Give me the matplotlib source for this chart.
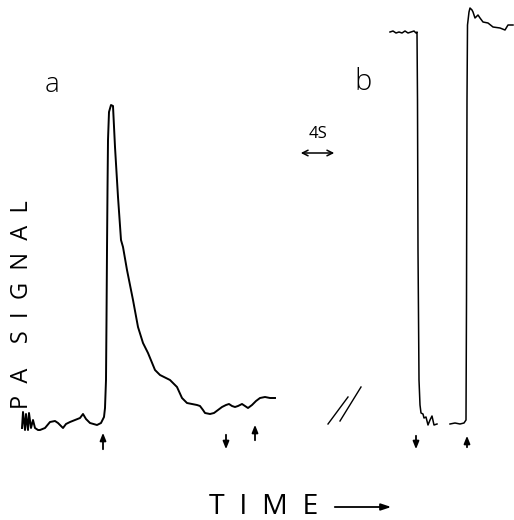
import matplotlib.pyplot as plt

# trace a: laser switched on (arrow up), off / on again
time_a = [22, 23, 25, 26, 28, 29, 31, 33, 35, 38, 40, 45, 50, 55, 58, 63, 66, 70, 75, 80,
          83, 86, 90, 97, 101, 104, 105, 106, 106.5, 107, 107.5, 108, 109, 111, 113, 115,
          118, 121, 123, 127, 133, 138, 143, 148, 155, 160, 170, 177, 182, 187, 192, 197,
          200, 203, 205, 210, 214, 218, 222, 226, 229, 232, 235, 238, 242, 245, 248, 252,
          256, 260, 265, 270, 275]
signal_a = [2, 18, 0, 16, 0, 17, 2, 10, 2, 0, 0, 2, 8, 9, 7, 2, 6, 8, 10, 12,
            16, 11, 7, 5, 7, 13, 22, 50, 110, 180, 240, 290, 318, 325, 324, 283,
            233, 190, 183, 160, 130, 103, 87, 77, 60, 55, 50, 43, 32, 27, 26, 25,
            24, 20, 17, 16, 17, 20, 23, 25, 26, 24, 23, 24, 26, 24, 22, 25,
            29, 32, 33, 32, 32]

# trace b: switched off then on
time_b1 = [390, 393, 396, 399, 402, 405, 408, 411, 414, 416, 417, 417.5, 418, 419, 420,
           421, 423, 424, 426, 428, 430, 432, 434, 437]
signal_b1 = [398, 399, 397, 398, 397, 399, 397, 398, 399, 397, 398, 330, 180, 50, 25,
             17, 16, 12, 13, 5, 10, 14, 5, 6]
time_b2 = [450, 455, 460, 464, 466, 466.5, 467, 467.5, 469, 470, 472, 473, 475, 478, 480,
           483, 488, 493, 500, 505, 508, 513]
signal_b2 = [6, 7, 6, 7, 10, 130, 330, 405, 418, 422, 420, 418, 412, 415, 412,
             408, 407, 403, 402, 400, 405, 405]

# arrows: (time, tail, head)
markers = [(103, -22, 0), (226, -2, -22), (255, -13, 8), (416, -3, -22), (467, -20, -3)]

fig = plt.figure(figsize=(5.14, 5.2), dpi=100)
ax = fig.add_axes([0, 0, 1, 1])
ax.set_xlim(0, 514)
ax.set_ylim(-90, 430)
ax.axis('off')

ax.plot(time_a, signal_a, color='black', lw=1.4)
ax.plot(time_b1, signal_b1, color='black', lw=1.1)
ax.plot(time_b2, signal_b2, color='black', lw=1.1)

for t, tail, head in markers:
    ax.annotate('', xy=(t, head), xytext=(t, tail),
                arrowprops=dict(arrowstyle='-|>,head_width=0.18,head_length=0.45',
                                color='black', lw=1.3))

# time scale bar
ax.annotate('', xy=(298, 277), xytext=(337, 277),
            arrowprops=dict(arrowstyle='<->,head_width=0.2,head_length=0.4',
                            color='black', lw=1.1))

txt = dict(family='Open Sans', ha='center', va='center')
ax.text(318, 296, '4S', fontsize=12, **txt)

# break mark
ax.plot([328, 348], [6, 33], color='black', lw=1)
ax.plot([340, 361], [9, 43], color='black', lw=1)

ax.text(52, 345, 'a', fontsize=20, fontweight='light', **txt)
ax.text(363, 348, 'b', fontsize=21, fontweight='light', **txt)

ax.text(22, 125, 'P  A    S  I  G  N  A  L', fontsize=17, rotation=90, **txt)
ax.text(264, -77, 'T  I  M  E', fontsize=20.5, **txt)
ax.annotate('', xy=(394, -77), xytext=(332, -77),
            arrowprops=dict(arrowstyle='-|>,head_width=0.2,head_length=0.6',
                            color='black', lw=1.3))

fig.savefig('out.png', dpi=100)
